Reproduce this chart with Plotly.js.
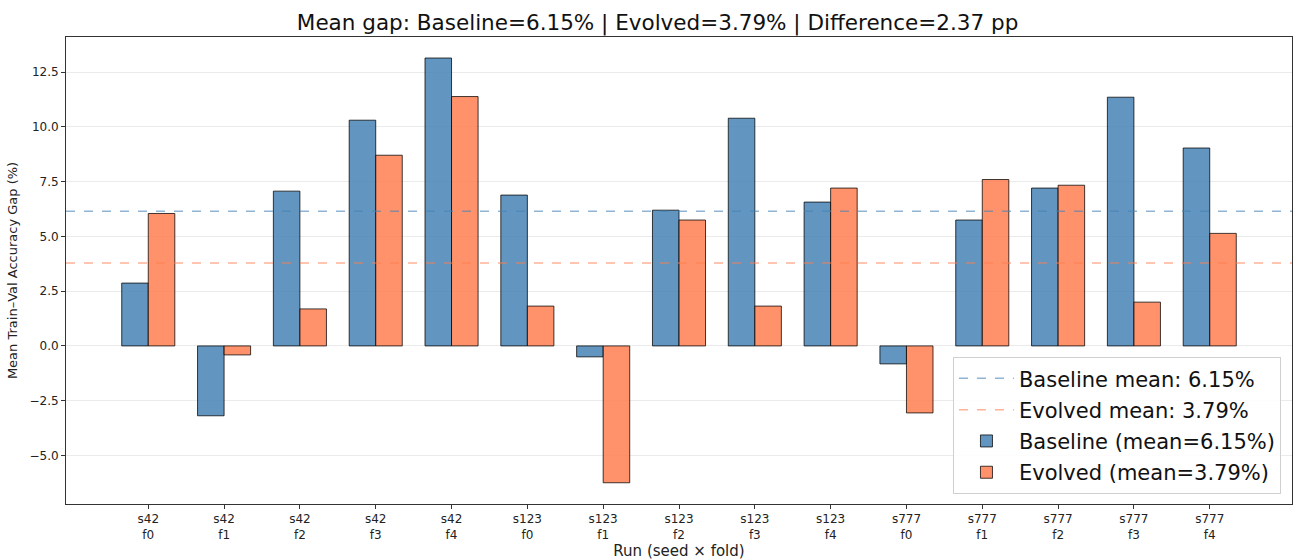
<!DOCTYPE html>
<html>
<head>
<meta charset="utf-8">
<script src="https://cdn.plot.ly/plotly-3.0.1.min.js"></script>
<style>html,body{margin:0;padding:0;background:#fff;}#chart{width:1297px;height:560px;}</style>
</head>
<body>
<div id="chart"></div>
<script>
const seeds = ["s42","s42","s42","s42","s42","s123","s123","s123","s123","s123","s777","s777","s777","s777","s777"];
const folds = ["f0","f1","f2","f3","f4","f0","f1","f2","f3","f4","f0","f1","f2","f3","f4"];
const baseline = [2.87,-3.19,7.07,10.31,13.15,6.89,-0.50,6.20,10.40,6.57,-0.82,5.75,7.21,11.36,9.04];
const evolved  = [6.05,-0.41,1.69,8.71,11.39,1.82,-6.25,5.75,1.82,7.21,-3.06,7.60,7.34,2.00,5.14];

const idx = baseline.map((_, i) => i);
const tickText = seeds.map((s, i) => s + "<br>" + folds[i]);
const mean = a => a.reduce((p, c) => p + c, 0) / a.length;
const mB = mean(baseline), mE = mean(evolved);
const xr = [-1.085, idx.length - 1 + 1.085];

const font = "DejaVu Sans, sans-serif";
const traces = [
  {type:"scatter", mode:"lines", x:xr, y:[mB,mB], name:"Baseline mean: " + mB.toFixed(2) + "%", legendgroup:"a",
   line:{color:"rgba(70,130,180,0.6)", width:1.5, dash:"dash"}, hoverinfo:"skip"},
  {type:"scatter", mode:"lines", x:xr, y:[mE,mE], name:"Evolved mean: " + mE.toFixed(2) + "%", legendgroup:"b",
   line:{color:"rgba(255,127,80,0.6)", width:1.5, dash:"dash"}, hoverinfo:"skip"},
  {type:"bar", x:idx, y:baseline, name:"Baseline (mean=" + mB.toFixed(2) + "%)", width:0.35, offset:-0.35, legendgroup:"c",
   marker:{color:"rgba(70,130,180,0.85)", line:{color:"rgba(0,0,0,0.75)", width:1}}},
  {type:"bar", x:idx, y:evolved, name:"Evolved (mean=" + mE.toFixed(2) + "%)", width:0.35, offset:0, legendgroup:"d",
   marker:{color:"rgba(255,127,80,0.85)", line:{color:"rgba(0,0,0,0.75)", width:1}}}
];

const layout = {
  width:1297, height:560,
  margin:{l:66, r:5, t:37, b:56},
  paper_bgcolor:"#fff", plot_bgcolor:"#fff",
  font:{family:font, color:"#222"},
  barmode:"overlay",
  title:{text:"Mean gap: Baseline=" + mB.toFixed(2) + "% | Evolved=" + mE.toFixed(2) + "% | Difference=" + (mB - mE).toFixed(2) + " pp",
         font:{size:21.5, family:font, color:"#111"}, x:0.507, xref:"container", xanchor:"center", y:0.96, yanchor:"middle", yref:"container"},
  xaxis:{range:xr, tickmode:"array", tickvals:idx, ticktext:tickText, tickfont:{size:12},
         showgrid:false, zeroline:false, showline:true, linecolor:"#333", linewidth:1, mirror:true,
         ticks:"outside", ticklen:4, tickcolor:"#333",
         title:{text:"Run (seed × fold)", font:{size:15}, standoff:4}},
  yaxis:{range:[-7.22, 14.11], tickvals:[-5,-2.5,0,2.5,5,7.5,10,12.5], tickformat:".1f", tickfont:{size:12},
         showgrid:true, gridcolor:"#ebebeb", gridwidth:1, zeroline:false,
         showline:true, linecolor:"#333", linewidth:1, mirror:true,
         ticks:"outside", ticklen:4, tickcolor:"#333",
         title:{text:"Mean Train–Val Accuracy Gap (%)", font:{size:13}, standoff:8}},
  legend:{x:0.991, xanchor:"right", y:0.021, yanchor:"bottom", bgcolor:"rgba(255,255,255,0.85)",
          bordercolor:"#d0d0d0", borderwidth:1, font:{size:21, family:font, color:"#111"},
          tracegroupgap:1, traceorder:"grouped", itemwidth:55},
  showlegend:true
};

Plotly.newPlot("chart", traces, layout, {displayModeBar:false, staticPlot:true});
</script>
</body>
</html>
